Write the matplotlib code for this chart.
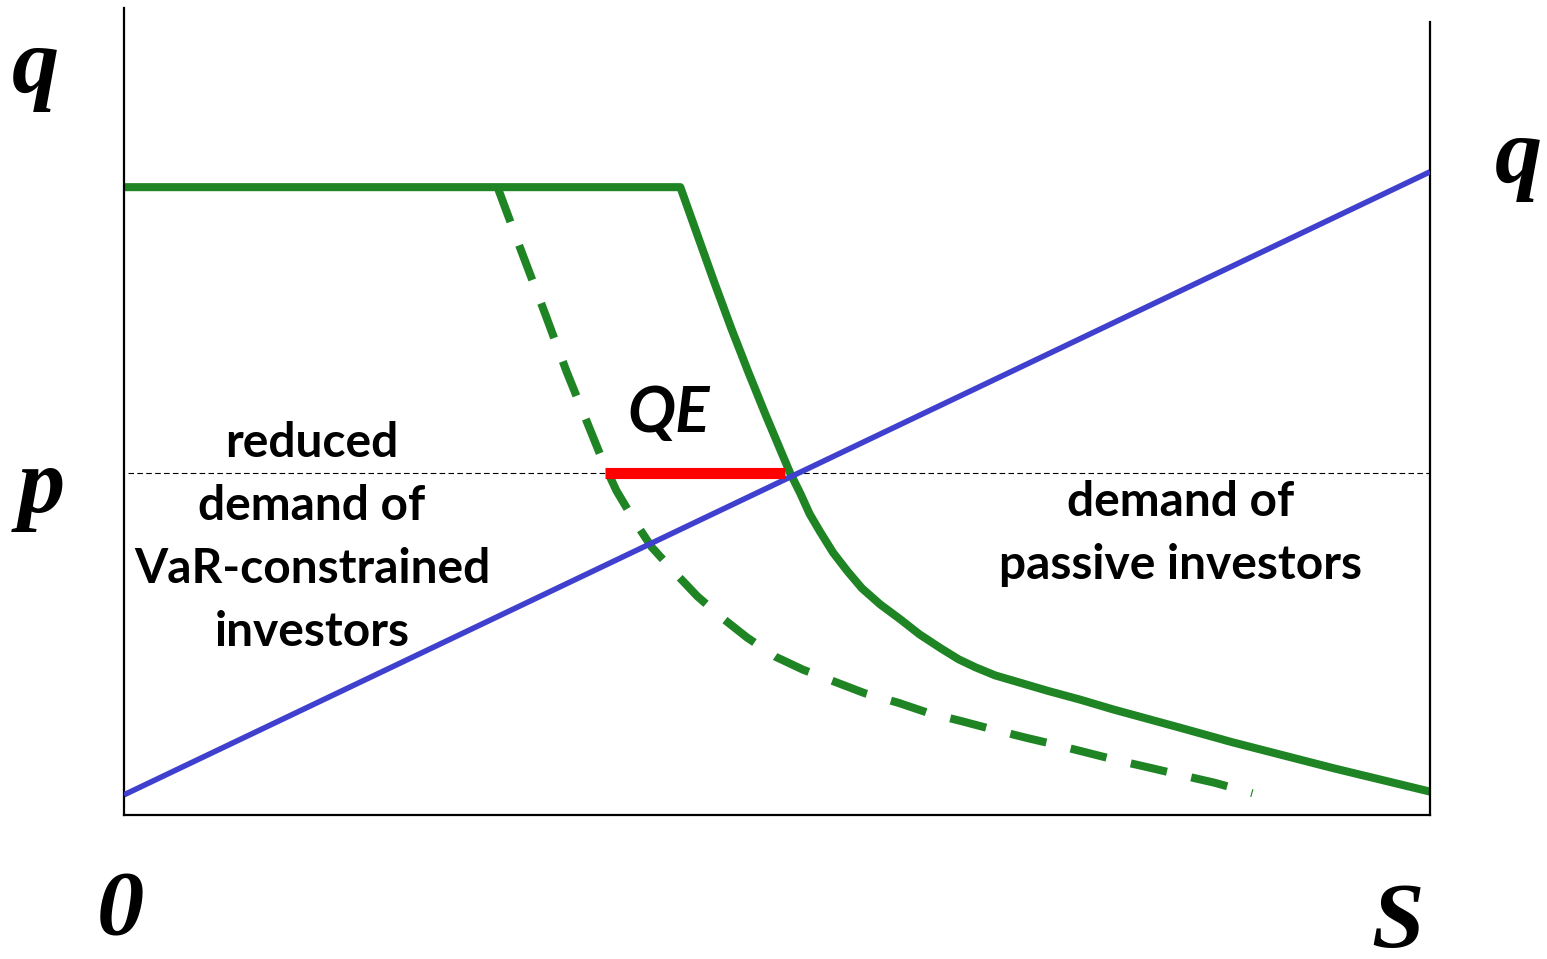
import numpy as np
import matplotlib
matplotlib.use("Agg")
import matplotlib.pyplot as plt

# supply of passive investors (straight line), x = quantity, y = price
supply_x = [0.0, 10.0]
supply_y = [0.25, 7.97]

# demand of VaR-constrained investors (before QE)
demand_x = [0.0, 4.26, 4.39, 4.52, 4.65, 4.78, 4.91, 5.04, 5.10, 5.18, 5.25,
            5.33, 5.43, 5.54, 5.65, 5.79, 5.94, 6.09, 6.25, 6.39, 6.52, 6.67,
            6.86, 7.07, 7.32, 7.57, 8.09, 8.49, 9.26, 10.0]
demand_y = [7.78, 7.78, 7.19, 6.60, 6.03, 5.49, 4.97, 4.47, 4.24, 3.98, 3.73,
            3.51, 3.25, 3.02, 2.81, 2.61, 2.43, 2.24, 2.07, 1.93, 1.83, 1.73,
            1.64, 1.54, 1.43, 1.31, 1.08, 0.90, 0.58, 0.29]

# reduced demand (dashed)
reduced_x = [2.86, 3.03, 3.22, 3.39, 3.57, 3.67, 3.77, 3.91, 4.04, 4.22, 4.39,
             4.59, 4.77, 4.99, 5.20, 5.46, 5.67, 5.93, 6.15, 6.42, 6.63, 6.90,
             7.11, 7.38, 7.60, 7.87, 8.08, 8.35, 8.64]
reduced_y = [7.78, 7.04, 6.23, 5.49, 4.77, 4.37, 4.02, 3.64, 3.32, 3.00, 2.71,
             2.43, 2.20, 1.96, 1.80, 1.64, 1.51, 1.39, 1.27, 1.16, 1.07, 0.96,
             0.88, 0.77, 0.68, 0.58, 0.50, 0.40, 0.27]

p_level = 4.24
qe_x = [3.68, 5.06]

left_lines = ["reduced", "demand of", "VaR-constrained", "investors"]
right_lines = ["demand of", "passive investors"]

green = "#1e8424"
blue = "#4040cf"

fig = plt.figure(figsize=(15.47, 9.59), dpi=100)
ax = fig.add_axes([124 / 1547, 144 / 959, 1306 / 1547, 807 / 959])
ax.set_xlim(0, 10)
ax.set_ylim(0, 10)

#---------------------------------#
#   lines
#---------------------------------#
ax.plot([0.03, 10], [p_level, p_level], color="black", lw=0.8,
        linestyle=(0, (5, 3)), zorder=1)
ax.plot(demand_x, demand_y, color=green, lw=5.8, solid_capstyle="butt",
        solid_joinstyle="round", zorder=2)
ax.plot(reduced_x, reduced_y, color=green, lw=5.8, linestyle=(0, (4.6, 3.1)),
        dash_capstyle="butt", dash_joinstyle="round", zorder=2)
ax.plot(supply_x, supply_y, color=blue, lw=4.0, solid_capstyle="butt", zorder=3)
ax.plot(qe_x, [p_level, p_level], color="red", lw=8, solid_capstyle="butt",
        zorder=4)

#---------------------------------#
#   frame
#---------------------------------#
ax.spines["top"].set_visible(False)
for s in ["left", "bottom", "right"]:
    ax.spines[s].set_linewidth(1.6)
    ax.spines[s].set_color("black")
ax.spines["right"].set_bounds(0, 9.83)
ax.set_xticks([])
ax.set_yticks([])

#---------------------------------#
#   texts
#---------------------------------#
sym = dict(family="Liberation Serif", weight="bold", style="italic",
           fontsize=68, ha="center", va="baseline", clip_on=False)
ax.text(-0.68, 8.96, "q", **sym)
ax.text(10.68, 7.84, "q", **sym)
ax.text(-0.63, 3.75, "p", **sym)
ax.text(-0.03, -1.49, "0", **sym)
ax.text(9.75, -1.64, "S", **sym)

body = dict(family="Lato", weight="bold", fontsize=34.5, ha="center",
            va="baseline")
step = 63 / 80.7
for i, line in enumerate(left_lines):
    ax.text(1.44, 4.44 - i * step, line, **body)
for i, line in enumerate(right_lines):
    ax.text(8.09, 3.70 - i * step, line, **body)

ax.text(4.17, 4.75, "QE", family="Lato", weight="bold", style="italic",
        fontsize=46, ha="center", va="baseline")

fig.savefig("out.png", dpi=100)
